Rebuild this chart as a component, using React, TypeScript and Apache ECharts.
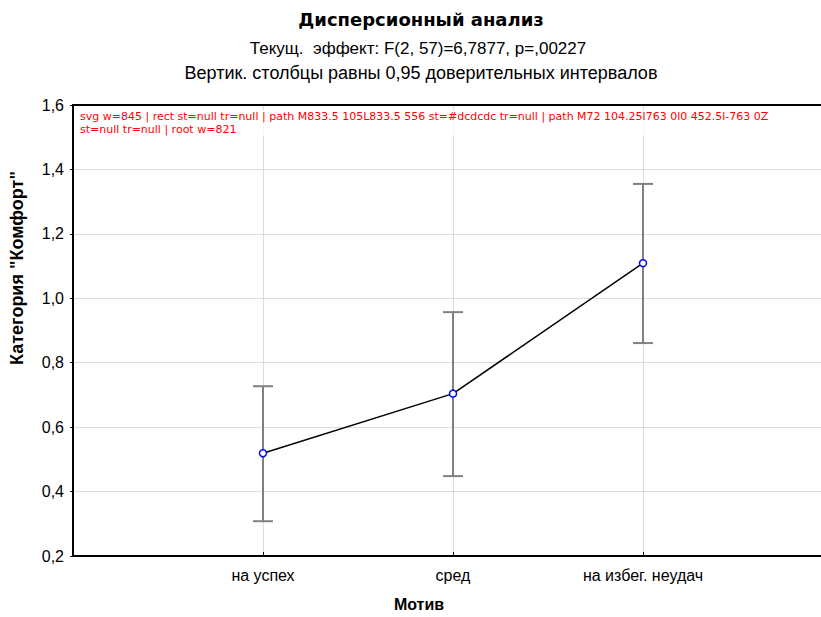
import React, { useEffect, useRef } from "react";
import * as echarts from "echarts";

const categories = ["на успех", "сред", "на избег. неудач"];
const means = [0.519, 0.704, 1.109];
const upper = [0.727, 0.957, 1.355];
const lower = [0.308, 0.448, 0.861];
const yTicks = [0.2, 0.4, 0.6, 0.8, 1.0, 1.2, 1.4, 1.6];

const titleText = "Дисперсионный анализ";
const subtitle1 = "Текущ.  эффект: F(2, 57)=6,7877, p=,00227";
const subtitle2 = "Вертик. столбцы равны 0,95 доверительных интервалов";
const xName = "Мотив";
const yName = "Категория \"Комфорт\"";

const FONT = "'Liberation Sans', Arial, sans-serif";

export default function App() {
  const ref = useRef<HTMLDivElement>(null);
  const dbg = useRef<HTMLDivElement>(null);
  useEffect(() => {
    document.body.style.margin = "0";
    document.body.style.overflow = "hidden";
    document.documentElement.style.overflow = "hidden";
    if (!ref.current) return;
    const chart = echarts.init(ref.current, null, { renderer: "svg" });
    const lineData = means.map((m, i) => [i + 1, m]);
    const errData = means.map((_, i) => [i + 1, lower[i], upper[i]]);
    chart.setOption({
      animation: false,
      backgroundColor: "#fff",
      textStyle: { fontFamily: FONT },
      grid: { left: 73, top: 105, width: 760, height: 451, outerBoundsMode: "none", containLabel: false, show: false },
      xAxis: [
        {
          type: "value", min: 0, max: categories.length + 1, interval: 1,
          axisLine: { show: true, lineStyle: { color: "#000", width: 2 } },
          axisTick: { show: true, inside: true, length: 4, lineStyle: { color: "#000" } },
          splitLine: { show: true, lineStyle: { color: "#dcdcdc", width: 1 } },
          axisLabel: { margin: 11, fontSize: 16, color: "#000", fontFamily: FONT, formatter: (v: number) => categories[v - 1] ?? "" },
        },
        {
          type: "value", position: "top", min: 0, max: categories.length + 1, interval: 1,
          axisLine: { show: true, onZero: false, lineStyle: { color: "#000", width: 2 } },
          axisTick: { show: false }, splitLine: { show: false }, axisLabel: { show: false },
        },
      ],
      yAxis: {
        type: "value", min: yTicks[0], max: yTicks[yTicks.length - 1], interval: 0.2,
        axisLine: { show: true, lineStyle: { color: "#000", width: 2 } },
        axisTick: { show: true, length: 3, lineStyle: { color: "#000" } },
        splitLine: { show: true, lineStyle: { color: "#dcdcdc", width: 1 } },
        axisLabel: { margin: 9, fontSize: 16, color: "#000", fontFamily: FONT, formatter: (v: number) => v.toFixed(1).replace(".", ",") },
      },
      graphic: [
        { type: "text", x: 421, y: 19, style: { text: titleText, font: "bold 18px 'DejaVu Sans', sans-serif", fill: "#000", textAlign: "center", textVerticalAlign: "middle" } },
        { type: "text", x: 418, y: 48, style: { text: subtitle1, font: "17px " + FONT, fill: "#000", textAlign: "center", textVerticalAlign: "middle" } },
        { type: "text", x: 421, y: 73, style: { text: subtitle2, font: "18px " + FONT, fill: "#000", textAlign: "center", textVerticalAlign: "middle" } },
        { type: "text", x: 419, y: 604, style: { text: xName, font: "bold 16px " + FONT, fill: "#000", textAlign: "center", textVerticalAlign: "middle" } },
        { type: "text", x: 17, y: 268, rotation: Math.PI / 2, style: { text: yName, font: "bold 18px " + FONT, fill: "#000", textAlign: "center", textVerticalAlign: "middle" } },
      ],
      series: [
        {
          type: "custom", data: errData, z: 2,
          renderItem: (params: any, api: any) => {
            const x = api.value(0);
            const lo = api.coord([x, api.value(1)]);
            const hi = api.coord([x, api.value(2)]);
            const half = 10;
            const style = { stroke: "#808080", lineWidth: 2, fill: "none" };
            return {
              type: "group",
              children: [
                { type: "line", shape: { x1: lo[0], y1: lo[1], x2: hi[0], y2: hi[1] }, style },
                { type: "line", shape: { x1: hi[0] - half, y1: hi[1], x2: hi[0] + half, y2: hi[1] }, style },
                { type: "line", shape: { x1: lo[0] - half, y1: lo[1], x2: lo[0] + half, y2: lo[1] }, style },
              ],
            };
          },
        },
        {
          type: "line", data: lineData, z: 3, symbol: "circle", symbolSize: 7,
          lineStyle: { color: "#000", width: 1.5 },
          itemStyle: { color: "#fff", borderColor: "#0000ff", borderWidth: 1.5 },
        },
      ],
    });
    // debug: find tall elements near right edge
    const out: string[] = [];
    const svg = ref.current.querySelector("svg");
    if (svg) {
      out.push("svg w=" + svg.getAttribute("width"));
      svg.querySelectorAll("path,line,rect").forEach((el: any) => {
        try {
          const b = el.getBBox();
          if (b.height > 100 && b.x + b.width > 700) out.push(el.tagName + " " + (el.getAttribute("d") || "").slice(0, 60) + " st=" + el.getAttribute("stroke") + " tr=" + el.getAttribute("transform"));
        } catch (e) {}
      });
    }
    const r = document.getElementById("root");
    out.push("root w=" + (r ? r.getBoundingClientRect().width : -1));
    if (dbg.current) dbg.current.textContent = out.join(" | ");
    return () => chart.dispose();
  }, []);
  return (
    <div style={{ position: "relative" }}>
      <div ref={ref} style={{ width: 845, height: 617, overflow: "hidden" }} />
      <div ref={dbg} style={{ position: "absolute", left: 80, top: 110, width: 700, fontSize: 11, fontFamily: "DejaVu Sans", color: "red", background: "rgba(255,255,255,0.8)" }} />
    </div>
  );
}
